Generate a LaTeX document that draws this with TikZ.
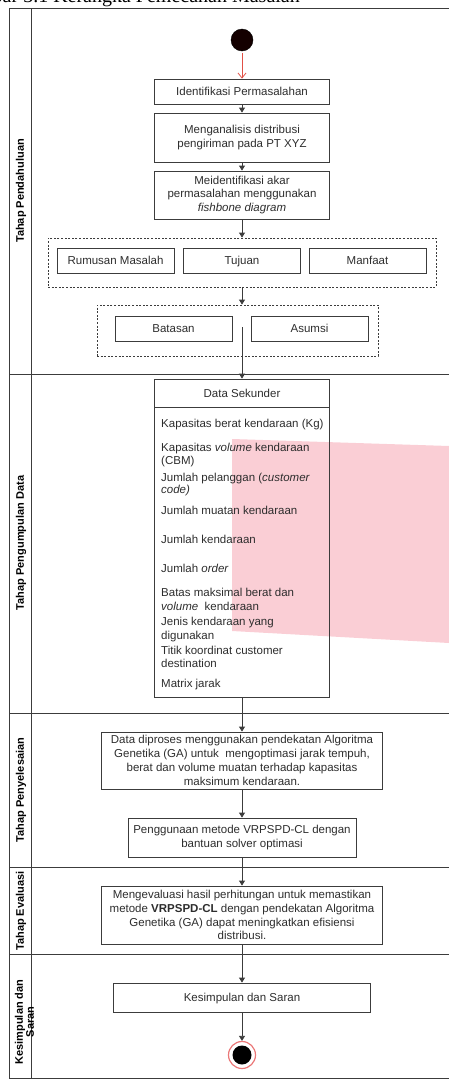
\documentclass[tikz,border=0pt]{standalone}
\usepackage{fontspec}
\setmainfont{Liberation Sans}
\newfontfamily\capfont{Liberation Serif}
\usetikzlibrary{arrows.meta}
\definecolor{ln}{RGB}{60,60,60}
\definecolor{tx}{RGB}{45,45,45}
\definecolor{pinkwm}{RGB}{250,206,213}
\definecolor{startred}{RGB}{225,80,70}
\definecolor{endred}{RGB}{235,120,120}
\begin{document}
\begin{tikzpicture}[x=1pt,y=-1pt,
  box/.style={draw=ln,line width=0.8pt,text=tx,font=\fontsize{11.5}{13.8}\selectfont,align=center,inner sep=0pt},
  sbox/.style={box,text height=8.2pt,text depth=0pt},
  grp/.style={draw=ln,line width=0.8pt,dash pattern=on 2pt off 1.6pt,inner sep=0pt},
  lane/.style={rotate=90,font=\bfseries\fontsize{11}{12.5}\selectfont,text=black,align=center,inner sep=0pt},
  item/.style={anchor=base west,inner sep=0pt,text=tx,font=\fontsize{11.5}{13.8}\selectfont},
  flow/.style={draw=ln,line width=0.8pt,-{Triangle[length=5pt,width=6pt]}},
  frame/.style={draw=ln,line width=0.9pt}]

\useasboundingbox (0,0) rectangle (449,1079);
\clip (0,0) rectangle (449,1079);

% cut-off caption
\node[anchor=base east,inner sep=0pt,font=\capfont\fontsize{20}{22}\selectfont] (cap) at (300,2) {Gambar 3.1 Kerangka Pemecahan Masalah};

% watermark
\fill[pinkwm] (232,439) -- (449,446) -- (449,643) -- (232,631) -- cycle;

% frame and lanes
\draw[frame] (449,8) -- (9,8) -- (9,1078) -- (449,1078);
\draw[frame] (31,8) -- (31,1078);
\draw[frame] (9,374) -- (449,374);
\draw[frame] (9,713) -- (449,713);
\draw[frame] (9,867) -- (449,867);
\draw[frame] (9,954) -- (449,954);

\node[lane] (l1) at (21,191) {Tahap Pendahuluan};
\node[lane] (l2) at (21,543) {Tahap Pengumpulan Data};
\node[lane] (l3) at (21,790) {Tahap Penyelesaian};
\node[lane] (l4) at (21,911) {Tahap Evaluasi};
\node[lane,font=\bfseries\fontsize{11}{9.5}\selectfont] (l5) at (24.5,1022) {Kesimpulan dan\\Saran};

% start
\node[circle,fill=black!92!red,draw=black,minimum size=22pt,inner sep=0pt] (st) at (242,40) {};

% lane 1
\node[sbox,minimum width=175pt,minimum height=25pt] (b1) at (242,91.5) {Identifikasi Permasalahan};
\node[box,minimum width=175pt,minimum height=49pt] (b2) at (242,137.5) {Menganalisis distribusi\\pengiriman pada PT XYZ};
\node[box,minimum width=175pt,minimum height=48pt] (b3) at (242,195) {Meidentifikasi akar\\permasalahan menggunakan\\\textit{fishbone diagram}};

\node[grp,minimum width=388pt,minimum height=49pt] (g1) at (242,262.5) {};
\node[sbox,minimum width=117pt,minimum height=25pt] (rm) at (115.5,260.5) {Rumusan Masalah};
\node[sbox,minimum width=117pt,minimum height=25pt] (tj) at (242,260.5) {Tujuan};
\node[sbox,minimum width=117pt,minimum height=25pt] (mf) at (367.5,260.5) {Manfaat};

\node[grp,minimum width=281pt,minimum height=51pt] (g2) at (237.5,330.5) {};
\node[sbox,minimum width=117pt,minimum height=25pt] (bt) at (173.5,328.5) {Batasan};
\node[sbox,minimum width=117pt,minimum height=25pt] (as) at (309.5,328.5) {Asumsi};
\coordinate (g2c) at (242,327);

% lane 2
\node[box,minimum width=175pt,minimum height=318pt] (ds) at (242,538) {};
\node[inner sep=0pt,text=tx,font=\fontsize{11.5}{13.8}\selectfont] (dsh) at (242,393) {Data Sekunder};
\coordinate (dsl) at (154.5,407);
\coordinate (dsr) at (329.5,407);
\draw[draw=ln,line width=0.8pt] (dsl) -- (dsr);

\node[item] (i1) at (161,427) {Kapasitas berat kendaraan (Kg)};
\node[item] (i2a) at (161,451) {Kapasitas \textit{volume} kendaraan};
\node[item] (i2b) at (161,464) {(CBM)};
\node[item] (i3a) at (161,481) {Jumlah pelanggan (\textit{customer}};
\node[item] (i3b) at (161,493) {\textit{code)}};
\node[item] (i4) at (161,514) {Jumlah muatan kendaraan};
\node[item] (i5) at (161,543) {Jumlah kendaraan};
\node[item] (i6) at (161,572) {Jumlah \textit{order}};
\node[item] (i7a) at (161,596) {Batas maksimal berat dan};
\node[item] (i7b) at (161,610) {\textit{volume}\ \ kendaraan};
\node[item] (i8a) at (161,625) {Jenis kendaraan yang};
\node[item] (i8b) at (161,639) {digunakan};
\node[item] (i9a) at (161,654) {Titik koordinat customer};
\node[item] (i9b) at (161,667) {destination};
\node[item] (i10) at (161,687) {Matrix jarak};

% lane 3
\node[box,minimum width=281pt,minimum height=57pt] (p1) at (242,760.5) {Data diproses menggunakan pendekatan Algoritma\\Genetika (GA) untuk\ \ mengoptimasi jarak tempuh,\\berat dan volume muatan terhadap kapasitas\\maksimum kendaraan.};
\node[box,minimum width=228pt,minimum height=39pt] (p2) at (242,837.5) {Penggunaan metode VRPSPD-CL dengan\\bantuan solver optimasi};

% lane 4
\node[box,minimum width=281pt,minimum height=58pt] (ev) at (242,915) {Mengevaluasi hasil perhitungan untuk memastikan\\metode \textbf{VRPSPD-CL} dengan pendekatan Algoritma\\Genetika (GA) dapat meningkatkan efisiensi\\distribusi.};

% lane 5
\node[sbox,minimum width=257pt,minimum height=29pt] (ks) at (242,997.5) {Kesimpulan dan Saran};
\node[circle,draw=endred,line width=1.2pt,fill=white,minimum size=27pt,inner sep=0pt] (en) at (242,1055) {};
\node[circle,fill=black,minimum size=19pt,inner sep=0pt] (enin) at (242,1055) {};

% connectors
\draw[draw=startred,line width=0.8pt,-{Straight Barb[length=5pt,width=8pt]}] ([yshift=-2pt]st.south) -- (b1.north);
\draw[flow] (b1) -- (b2);
\draw[flow] (b2) -- (b3);
\draw[flow] (b3.south) -- (b3.south |- g1.north);
\draw[flow] (g1.south) -- (g1.south |- g2.north);
\draw[flow] (g2c) -- (ds.north);
\draw[flow] (ds.south) -- (p1.north);
\draw[flow] (p1) -- (p2);
\draw[flow] (p2) -- (ev);
\draw[flow] (ev) -- (ks);
\draw[flow] (ks.south) -- (en.north);
\end{tikzpicture}
\end{document}
